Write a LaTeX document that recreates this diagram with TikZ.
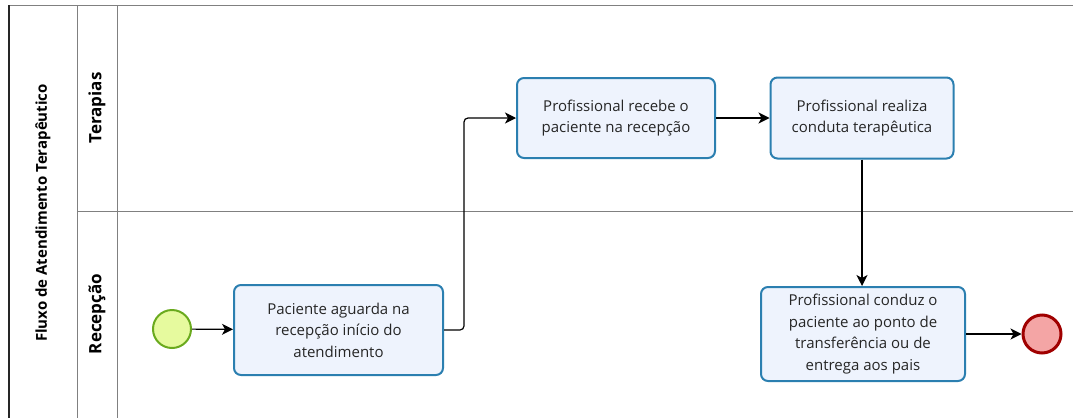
\documentclass[tikz,border=0pt]{standalone}
\usepackage{fontspec}
\setmainfont{Open Sans}
\usepackage{xcolor}
\usetikzlibrary{arrows.meta}
\definecolor{taskline}{HTML}{2B7FB0}
\definecolor{taskfill}{HTML}{EEF3FD}
\definecolor{startline}{HTML}{6AAA1E}
\definecolor{startfill}{HTML}{E6FA9E}
\definecolor{endline}{HTML}{A00000}
\definecolor{endfill}{HTML}{F4A5A5}
\definecolor{laneline}{HTML}{808080}
\tikzset{
  font={\fontsize{15pt}{21.5pt}\selectfont}}

\begin{document}
\begin{tikzpicture}[x=1pt, y=-1pt]

    \tikzset{edge/.style = {-{Stealth[length=11pt, width=11pt, inset=3pt]}, line width=1.2pt}}
    \tikzset{task/.style = {rounded corners=7pt, draw=taskline, fill=taskfill, line width=2pt, align=center, text=black!85}}
    \tikzset{lane/.style = {rotate=90, font={\fontsize{17pt}{20pt}\selectfont\bfseries}}}

    \useasboundingbox (0,0) rectangle (1073,418);

    % pool and lanes
    \draw[laneline, line width=1pt] (9,5) -- (1073,5);
    \draw[laneline, line width=1pt] (77,211) -- (1073,211);
    \draw[laneline, line width=1pt] (77,5) -- (77,418);
    \draw[laneline, line width=1pt] (117,5) -- (117,418);
    \draw[black!85, line width=1.2pt] (9,5) -- (9,418);
    \node[lane, font={\fontsize{15pt}{16pt}\selectfont\bfseries}] (pool) at (43,213) {Fluxo de Atendimento Terapêutico};
    \node[lane] (terapias) at (97,108) {Terapias};
    \node[lane] (recepcao) at (97,314) {Recepção};

    % vertices
    \node[circle, draw=startline, fill=startfill, line width=2pt, minimum size=38pt] (inicio) at (172,329) {};
    \node[task, minimum width=209pt, minimum height=90pt] (aguarda)
        at (338.5,330) {Paciente aguarda na\\recepção início do\\atendimento};
    \node[task, minimum width=198pt, minimum height=80pt] (recebe)
        at (616,118) {Profissional recebe o\\paciente na recepção};
    \node[task, minimum width=183pt, minimum height=81pt] (realiza)
        at (862,118) {Profissional realiza\\conduta terapêutica};
    \node[task, minimum width=204pt, minimum height=94pt] (conduz)
        at (863,334) {Profissional conduz o\\paciente ao ponto de\\transferência ou de\\entrega aos pais};
    \node[circle, draw=endline, fill=endfill, line width=3pt, minimum size=38pt] (fim) at (1042,334) {};

    %edges
    \draw[edge] (inicio) to (aguarda);
    \draw[edge, rounded corners=4pt] (aguarda.east) -- ++(20,0) |- (recebe.west);
    \draw[edge] (recebe) to (realiza);
    \draw[edge] (realiza.south) to (realiza.south |- conduz.north);
    \draw[edge] (conduz) to (fim);

\end{tikzpicture}
\end{document}
